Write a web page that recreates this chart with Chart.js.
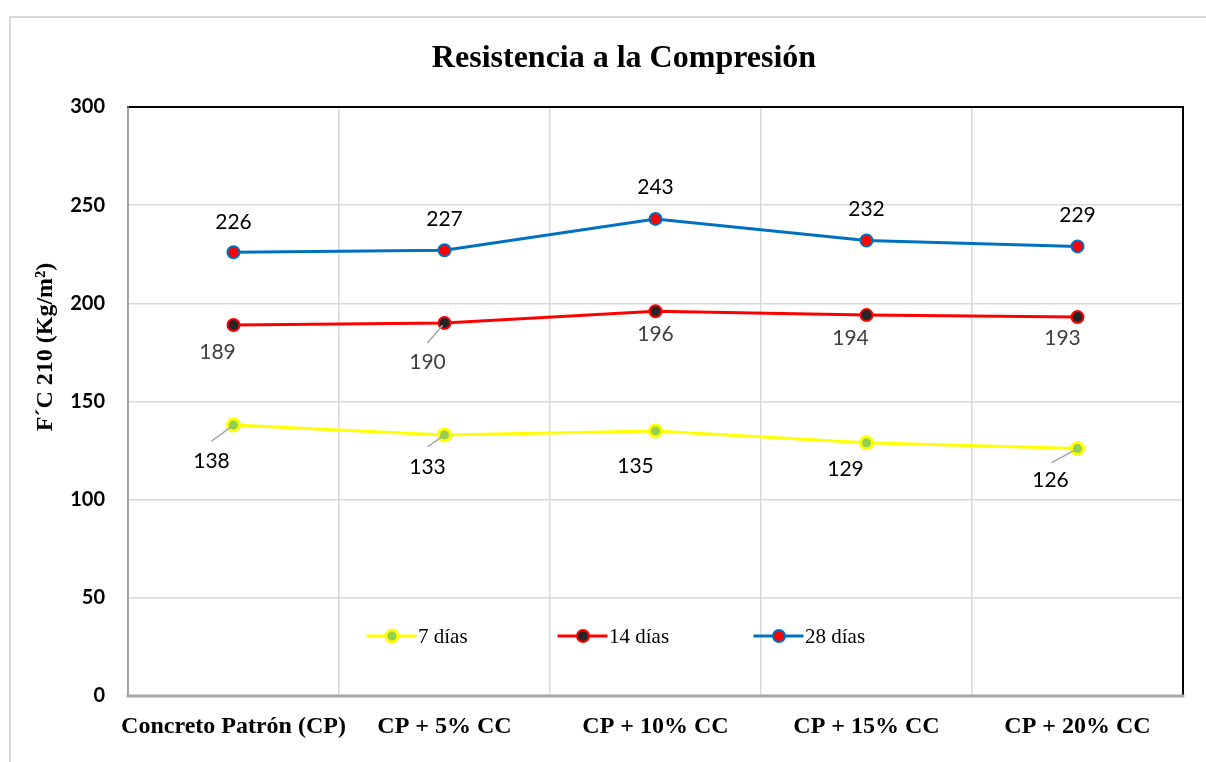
<!DOCTYPE html>
<html>
<head>
<meta charset="utf-8">
<script src="https://cdn.jsdelivr.net/npm/chart.js@4.4.1/dist/chart.umd.min.js"></script>
<style>
  body { margin: 0; background: #fff; }
</style>
</head>
<body>
<canvas id="myChart" width="1206" height="762"></canvas>
<script>
// Data
const categories = ['Concreto Patrón (CP)', 'CP + 5% CC', 'CP + 10% CC', 'CP + 15% CC', 'CP + 20% CC'];
const dias7 = [138, 133, 135, 129, 126];
const dias14 = [189, 190, 196, 194, 193];
const dias28 = [226, 227, 243, 232, 229];
const seriesNames = ['7 días', '14 días', '28 días'];
const yTicks = [0, 50, 100, 150, 200, 250, 300];

// label placement (offset of text centre from point), leader line start or null
const labelStyle = [
    { color: '#000', offs: [[-22, 36], [-17, 32], [-20, 35], [-21, 27], [-27, 32]],
      leaders: [[-22, 16], [-17, 12], null, null, [-26, 14]] },
    { color: '#404040', offs: [[-16, 27], [-17, 39], [0, 23], [-16, 23], [-15, 21]],
      leaders: [null, [-17, 20], null, null, null] },
    { color: '#000', offs: [[0, -30], [0, -31], [0, -32], [0, -31], [0, -31]],
      leaders: [null, null, null, null, null] }
];

const extras = {
    id: 'extras',
    beforeDraw(chart) {
        const ctx = chart.ctx;
        ctx.save();
        ctx.fillStyle = '#fff';
        ctx.fillRect(0, 0, chart.width, chart.height);
        ctx.strokeStyle = '#d9d9d9';
        ctx.lineWidth = 2;
        ctx.strokeRect(10, 17, 1300, 900);
        // title
        ctx.fillStyle = '#000';
        ctx.font = 'bold 32px "Liberation Serif"';
        ctx.textAlign = 'center';
        ctx.textBaseline = 'middle';
        ctx.fillText('Resistencia a la Compresión', 624, 59);
        // y title
        ctx.translate(46, 347);
        ctx.rotate(-Math.PI / 2);
        ctx.font = 'bold 24px "Liberation Serif"';
        ctx.fillText('F´C 210 (Kg/m²)', 0, 0);
        ctx.restore();
    },
    beforeDatasetsDraw(chart) {
        const { ctx, chartArea: a } = chart;
        ctx.save();
        ctx.lineCap = 'square';
        ctx.strokeStyle = '#000';
        ctx.lineWidth = 2;
        ctx.beginPath();
        ctx.moveTo(a.left, a.top);
        ctx.lineTo(a.right, a.top);
        ctx.lineTo(a.right, a.bottom);
        ctx.stroke();
        ctx.strokeStyle = '#8c8c8c';
        ctx.lineWidth = 1.5;
        ctx.beginPath();
        ctx.moveTo(a.left, a.top);
        ctx.lineTo(a.left, a.bottom);
        ctx.stroke();
        ctx.strokeStyle = '#a6a6a6';
        ctx.lineWidth = 3;
        ctx.beginPath();
        ctx.moveTo(a.left, a.bottom);
        ctx.lineTo(a.right, a.bottom);
        ctx.stroke();

        // legend
        const items = [[a.left + 240, 0], [a.left + 431, 1], [a.left + 627, 2]];
        const y = 636;
        ctx.font = '21px "Liberation Serif"';
        ctx.textBaseline = 'middle';
        ctx.textAlign = 'left';
        items.forEach(([x, i]) => {
            const ds = chart.data.datasets[i];
            ctx.strokeStyle = ds.borderColor;
            ctx.lineWidth = 3;
            ctx.beginPath();
            ctx.moveTo(x, y);
            ctx.lineTo(x + 47, y);
            ctx.stroke();
            ctx.beginPath();
            ctx.arc(x + 24, y, ds.pointRadius, 0, Math.PI * 2);
            ctx.fillStyle = ds.pointBackgroundColor;
            ctx.fill();
            ctx.lineWidth = ds.pointBorderWidth;
            ctx.strokeStyle = ds.pointBorderColor;
            ctx.stroke();
            ctx.fillStyle = '#000';
            ctx.fillText(seriesNames[i], x + 50, y + 1);
        });
        ctx.restore();
    },
    afterDatasetsDraw(chart) {
        const ctx = chart.ctx;
        ctx.save();
        ctx.font = '21px Lato';
        ctx.textAlign = 'center';
        ctx.textBaseline = 'middle';
        chart.data.datasets.forEach((ds, i) => {
            const st = labelStyle[i];
            chart.getDatasetMeta(i).data.forEach((pt, j) => {
                const ld = st.leaders[j];
                if (ld) {
                    const dx = -ld[0], dy = -ld[1];
                    const len = Math.hypot(dx, dy);
                    ctx.strokeStyle = '#a6a6a6';
                    ctx.lineWidth = 1.5;
                    ctx.beginPath();
                    ctx.moveTo(pt.x + ld[0], pt.y + ld[1]);
                    ctx.lineTo(pt.x - dx / len * 3, pt.y - dy / len * 3);
                    ctx.stroke();
                }
                ctx.fillStyle = st.color;
                ctx.fillText(ds.data[j], pt.x + st.offs[j][0], pt.y + st.offs[j][1]);
            });
        });
        ctx.restore();
    }
};

new Chart(document.getElementById('myChart'), {
    type: 'line',
    data: {
        labels: categories,
        datasets: [
            { label: seriesNames[0], data: dias7, borderColor: '#ffff00', borderWidth: 3,
              pointRadius: 6, pointBorderWidth: 3, pointBackgroundColor: '#92d050', pointBorderColor: '#ffff00' },
            { label: seriesNames[1], data: dias14, borderColor: '#ff0000', borderWidth: 3,
              pointRadius: 6, pointBorderWidth: 2, pointBackgroundColor: '#262626', pointBorderColor: '#ff0000' },
            { label: seriesNames[2], data: dias28, borderColor: '#0070c0', borderWidth: 3,
              pointRadius: 6, pointBorderWidth: 2, pointBackgroundColor: '#ff0000', pointBorderColor: '#0070c0' }
        ]
    },
    options: {
        responsive: false,
        animation: false,
        layout: { padding: { top: 107, right: 23, bottom: 0, left: 0 } },
        plugins: { legend: { display: false }, tooltip: { enabled: false } },
        scales: {
            x: {
                offset: true,
                grid: { offset: true, color: '#d9d9d9', lineWidth: 1.5, drawTicks: false },
                border: { display: false },
                ticks: { color: '#000', padding: 16, maxRotation: 0, autoSkip: false,
                         font: { family: 'Liberation Serif', size: 24, weight: 'bold' } },
                afterFit(s) { s.height = 66; }
            },
            y: {
                min: 0, max: 300,
                afterBuildTicks(s) { s.ticks = yTicks.map(v => ({ value: v })); },
                grid: { color: '#d9d9d9', lineWidth: 1.5, drawTicks: false },
                border: { display: false },
                ticks: { color: '#000', padding: 23,
                         font: { family: 'Lato', size: 20, weight: 'bold' } },
                afterFit(s) { s.width = 128; }
            }
        }
    },
    plugins: [extras]
});
</script>
</body>
</html>
